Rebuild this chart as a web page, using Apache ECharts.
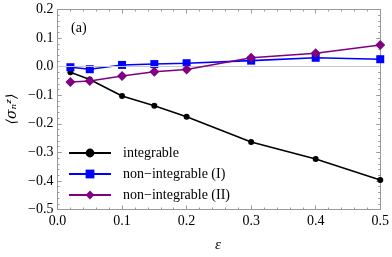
<!DOCTYPE html>
<html><head><meta charset="utf-8">
<script src="https://cdn.jsdelivr.net/npm/echarts@6/dist/echarts.min.js"></script>
<style>html,body{margin:0;padding:0;background:#fff}#c{width:392px;height:257px}</style>
</head><body><div id="c"></div>
<script>
var eps = [0.02, 0.05, 0.1, 0.15, 0.2, 0.3, 0.4, 0.5];
var integrable = [-0.02, -0.045, -0.103, -0.137, -0.175, -0.264, -0.323, -0.397];
var nonIntI = [-0.002, -0.009, 0.006, 0.009, 0.012, 0.021, 0.031, 0.026];
var nonIntII = [-0.054, -0.05, -0.033, -0.018, -0.01, 0.031, 0.047, 0.076];
var xTicks = [0.0, 0.1, 0.2, 0.3, 0.4, 0.5];
var yTicks = [0.2, 0.1, 0.0, -0.1, -0.2, -0.3, -0.4, -0.5];
var names = ['integrable', 'non\u2212integrable (I)', 'non\u2212integrable (II)'];

function pairs(ys){ return eps.map(function(x,i){ return [x, ys[i]]; }); }
var font = 'Liberation Serif';
var axisCol = '#999';
function xAx(show, pos){
  return {type:'value', min:0, max:0.5, interval:0.1, position:pos,
    axisLine:{show:true, onZero:false, lineStyle:{color:axisCol, width:1}},
    axisTick:{show:true, inside:true, length:4, lineStyle:{color:axisCol}},
    minorTick:{show:true, splitNumber:5, length:2, lineStyle:{color:axisCol}},
    splitLine:{show:false},
    axisLabel:{show:show, color:'#000', fontFamily:font, fontSize:14, margin:5,
      formatter:function(v){ return v.toFixed(1); }}};
}
function yAx(show, pos){
  return {type:'value', min:-0.5, max:0.2, interval:0.1, position:pos,
    axisLine:{show:true, onZero:false, lineStyle:{color:axisCol, width:1}},
    axisTick:{show:true, inside:true, length:4, lineStyle:{color:axisCol}},
    minorTick:{show:true, splitNumber:5, length:2, lineStyle:{color:axisCol}},
    splitLine:{show:false},
    axisLabel:{show:show, color:'#000', fontFamily:font, fontSize:14, margin:4,
      formatter:function(v){ return (v<0?'\u2212':'') + Math.abs(v).toFixed(1); }}};
}
var chart = echarts.init(document.getElementById('c'), null, {renderer:'canvas'});
chart.setOption({
  animation:false,
  grid:{left:57.5, top:9.5, right:11, bottom:47.5},
  xAxis:[xAx(true,'bottom'), xAx(false,'top')],
  yAxis:[yAx(true,'left'), yAx(false,'right')],
  legend:{left:68, top:146, orient:'vertical', itemWidth:42, itemHeight:11, itemGap:7, padding:0,
    textStyle:{fontFamily:font, fontSize:14, color:'#000', padding:[0,0,0,7]},
    data:names},
  graphic:[
    {type:'text', left:71, top:21, style:{text:'(a)', font:'14px "Liberation Serif"', fill:'#000'}},
    {type:'text', left:215, top:238, style:{text:'\u03b5', font:'italic 15px "Liberation Serif"', fill:'#000'}},
    {type:'text', x:12, y:109, rotation:Math.PI/2, style:{text:'\u27e8\u03c3\u2099\u1dbb\u27e9', font:'italic 14px "DejaVu Serif"', fill:'#000', align:'center', verticalAlign:'middle'}}
  ],
  series:[
    {name:names[0], type:'line', data:pairs(integrable), symbol:'circle', symbolSize:6,
      lineStyle:{color:'#000', width:1.6}, itemStyle:{color:'#000'}, z:3,
      markLine:{silent:true, symbol:'none', label:{show:false}, lineStyle:{color:'#c8c8c8', width:1, type:'solid'}, data:[{yAxis:0}]}},
    {name:names[1], type:'line', data:pairs(nonIntI), symbol:'rect', symbolSize:8,
      lineStyle:{color:'#0000ff', width:1.6}, itemStyle:{color:'#0000ff'}, z:4},
    {name:names[2], type:'line', data:pairs(nonIntII), symbol:'diamond', symbolSize:10,
      lineStyle:{color:'#800080', width:1.6}, itemStyle:{color:'#800080'}, z:5}
  ]
});
</script></body></html>
